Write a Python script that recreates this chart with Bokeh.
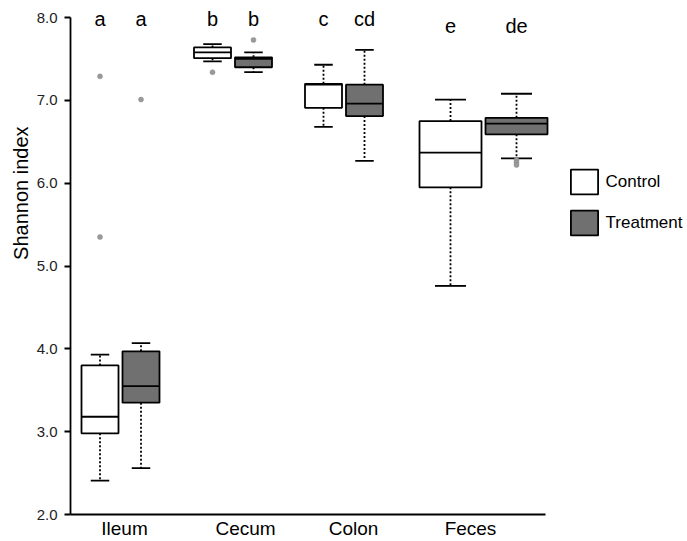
from bokeh.plotting import figure
from bokeh.models import Range1d, FixedTicker, Legend, LegendItem, ColumnDataSource, PrintfTickFormatter, Title
from bokeh.core.properties import value
from bokeh.embed import file_html
from bokeh.resources import INLINE

# ---------------- data ----------------
categories = ["Ileum", "Cecum", "Colon", "Feces"]
groups = ["Control", "Treatment"]

ctrl_low = [2.41, 7.47, 6.68, 4.76]
ctrl_q1 = [2.98, 7.51, 6.91, 5.95]
ctrl_med = [3.18, 7.58, 7.19, 6.37]
ctrl_q3 = [3.80, 7.64, 7.20, 6.75]
ctrl_high = [3.93, 7.68, 7.43, 7.01]

trt_low = [2.56, 7.34, 6.27, 6.30]
trt_q1 = [3.35, 7.40, 6.81, 6.59]
trt_med = [3.55, 7.50, 6.96, 6.72]
trt_q3 = [3.97, 7.52, 7.19, 6.79]
trt_high = [4.07, 7.58, 7.61, 7.08]

ctrl_out_cat = ["Ileum", "Ileum", "Cecum"]
ctrl_out_val = [7.29, 5.35, 7.34]
trt_out_cat = ["Ileum", "Cecum", "Feces", "Feces", "Feces"]
trt_out_val = [7.01, 7.73, 6.28, 6.25, 6.22]

ctrl_letters = ["a", "b", "c", "e"]
trt_letters = ["a", "b", "cd", "de"]

y_ticks = [2.0, 3.0, 4.0, 5.0, 6.0, 7.0, 8.0]
y_title = "Shannon index"

# ---------------- layout (positions / sizes, not data) ----------------
W, H = 687, 541
LEFT = 70
FRAME_W = W - LEFT
group_x = [50, 162.5, 273.5, 413]     # pair centres, frame px units
box_w = [37, 37, 37, 62]              # box widths (varwidth)
gap = 4
label_x = [54, 175, 283, 400]         # category label positions
letter_y = [7.98, 7.98, 7.98, 7.90]

FONT = "Liberation Sans"
GRAY = "#707070"
LW = 1.8

p = figure(width=W, height=H, x_range=Range1d(0, FRAME_W), y_range=Range1d(2.0, 8.206),
           output_backend="svg", toolbar_location=None,
           min_border_left=LEFT, min_border_right=0, min_border_top=0, min_border_bottom=0)
p.outline_line_color = None
p.xgrid.visible = False
p.ygrid.visible = False
p.background_fill_color = "white"
p.border_fill_color = "white"

def build(low, q1, med, q3, high, sign):
    cx, hw = [], []
    for i in range(len(categories)):
        off = box_w[i] / 2 + gap / 2
        cx.append(group_x[i] + sign * off)
        hw.append(box_w[i] / 2)
    return dict(
        cx=cx,
        left=[c - h for c, h in zip(cx, hw)],
        right=[c + h for c, h in zip(cx, hw)],
        cap_l=[c - h / 2 for c, h in zip(cx, hw)],
        cap_r=[c + h / 2 for c, h in zip(cx, hw)],
        low=low, q1=q1, med=med, q3=q3, high=high,
    )

ctrl = ColumnDataSource(build(ctrl_low, ctrl_q1, ctrl_med, ctrl_q3, ctrl_high, -1))
trt = ColumnDataSource(build(trt_low, trt_q1, trt_med, trt_q3, trt_high, +1))

renderers = {}
for src, fill, name in [(ctrl, "white", "Control"), (trt, GRAY, "Treatment")]:
    # whiskers (dotted)
    p.segment(x0="cx", y0="q3", x1="cx", y1="high", source=src, line_color="black",
              line_width=LW, line_dash="2 2")
    p.segment(x0="cx", y0="q1", x1="cx", y1="low", source=src, line_color="black",
              line_width=LW, line_dash="2 2")
    # caps
    p.segment(x0="cap_l", y0="high", x1="cap_r", y1="high", source=src, line_color="black", line_width=LW)
    p.segment(x0="cap_l", y0="low", x1="cap_r", y1="low", source=src, line_color="black", line_width=LW)
    # boxes
    r = p.quad(left="left", right="right", bottom="q1", top="q3", source=src,
               fill_color=fill, line_color="black", line_width=LW)
    renderers[name] = r
    # median
    p.segment(x0="left", y0="med", x1="right", y1="med", source=src, line_color="black", line_width=LW)

# outliers
cpos = {c: i for i, c in enumerate(categories)}
ctrl_cx = ctrl.data["cx"]
trt_cx = trt.data["cx"]
p.scatter(x=[ctrl_cx[cpos[c]] for c in ctrl_out_cat], y=ctrl_out_val, size=5,
          fill_color="#9a9a9a", line_color="#8a8a8a", line_width=0.5)
p.scatter(x=[trt_cx[cpos[c]] for c in trt_out_cat], y=trt_out_val, size=5,
          fill_color="#9a9a9a", line_color="#8a8a8a", line_width=0.5)

# significance letters
p.text(x=ctrl_cx, y=letter_y, text=ctrl_letters, text_align="center", text_baseline="alphabetic",
       text_font=value(FONT), text_font_size="20px", text_color="black")
p.text(x=trt_cx, y=letter_y, text=trt_letters, text_align="center", text_baseline="alphabetic",
       text_font=value(FONT), text_font_size="20px", text_color="black")

# axes
xa = p.xaxis[0]
xa.ticker = FixedTicker(ticks=label_x)
xa.major_label_overrides = {lx: c for lx, c in zip(label_x, categories)}
xa.bounds = (0, 475)
xa.major_tick_out = 0
xa.major_tick_in = 0
xa.minor_tick_line_color = None
xa.axis_line_width = LW
xa.axis_line_color = "black"
xa.major_label_standoff = 3
xa.major_label_text_font = FONT
xa.major_label_text_font_size = "19px"
xa.major_label_text_color = "black"

ya = p.yaxis[0]
ya.ticker = FixedTicker(ticks=y_ticks)
ya.formatter = PrintfTickFormatter(format="%.1f")
ya.bounds = (2.0, 8.0)
ya.major_tick_out = 6
ya.major_tick_in = 0
ya.major_tick_line_width = LW
ya.minor_tick_line_color = None
ya.axis_line_width = LW
ya.axis_line_color = "black"
ya.major_label_standoff = 7
ya.major_label_text_font = FONT
ya.major_label_text_font_size = "15px"
ya.major_label_text_color = "#222222"

# y-axis title, placed above the centre and near the left edge as in the reference
p.add_layout(Title(text=y_title, align="right", offset=126, standoff=0, vertical_align="top",
                   text_font=FONT, text_font_size="20px", text_font_style="normal",
                   text_color="black"), "left")

legend = Legend(items=[LegendItem(label="Control", renderers=[renderers["Control"]]),
                       LegendItem(label="Treatment", renderers=[renderers["Treatment"]])],
                location=(496.6, 276), orientation="vertical",
                glyph_width=34, glyph_height=31, spacing=10, padding=0, margin=0,
                label_standoff=5, label_text_font=FONT, label_text_font_size="17px",
                label_text_color="black", border_line_color=None, background_fill_alpha=0)
p.add_layout(legend, "center")

open("out.html", "w").write(file_html(p, INLINE))
